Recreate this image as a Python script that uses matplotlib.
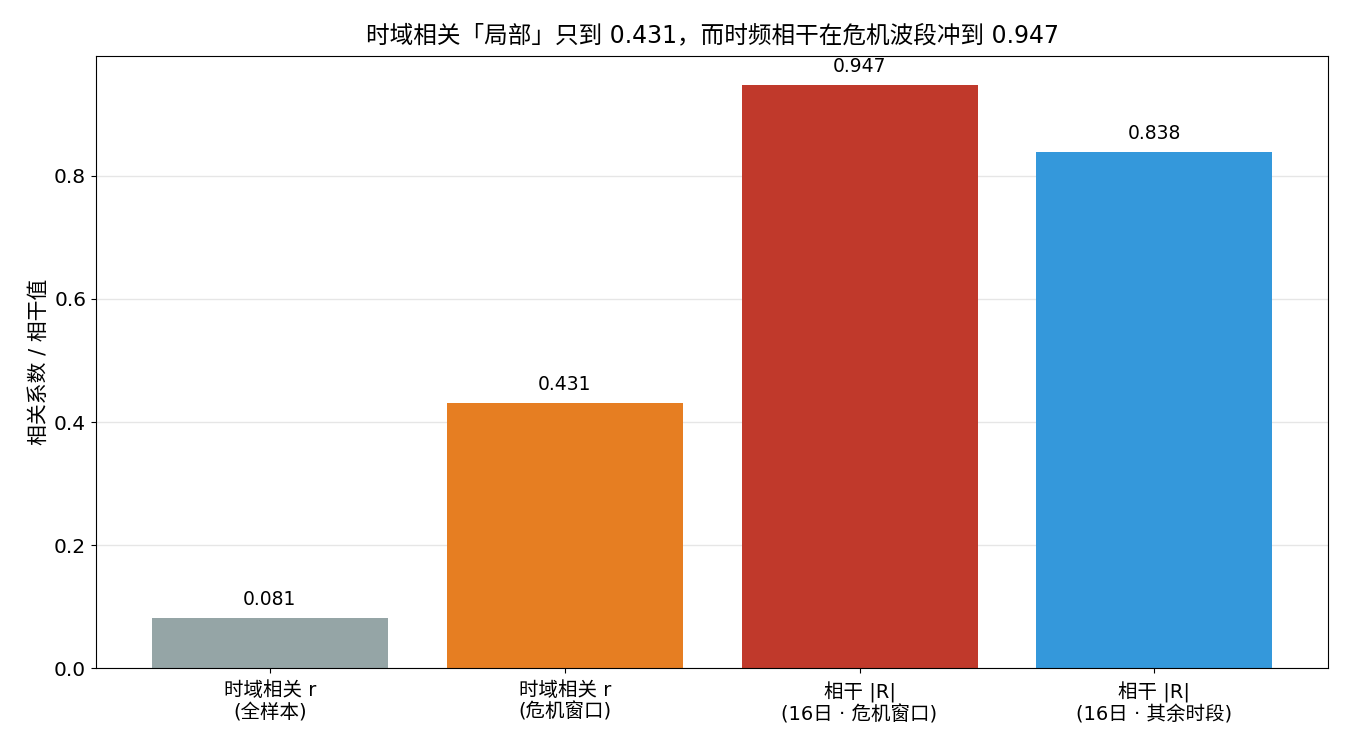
import matplotlib
matplotlib.use('Agg')
import matplotlib.pyplot as plt
import numpy as np

plt.rcParams['font.family'] = ['DejaVu Sans', 'Noto Sans CJK SC']
plt.rcParams['axes.unicode_minus'] = False

# data
labels = ['时域相关 r\n(全样本)', '时域相关 r\n(危机窗口)',
          '相干 |R|\n(16日 · 危机窗口)', '相干 |R|\n(16日 · 其余时段)']
values = [0.081, 0.431, 0.947, 0.838]
colors = ['#95a5a6', '#e67e22', '#c0392b', '#3498db']

fig, ax = plt.subplots(figsize=(13.5, 7.5), dpi=100)
x = np.arange(len(values))
bars = ax.bar(x, values, width=0.8, color=colors)

for xi, v in zip(x, values):
    ax.text(xi, v + 0.015, '%.3f' % v, ha='center', va='bottom', fontsize=13.5)

ax.set_xticks(x)
ax.set_xticklabels(labels, fontsize=14, linespacing=1.15)
ax.tick_params(axis='x', pad=6)
ax.tick_params(axis='y', labelsize=14.5)
ax.set_ylim(0, max(values) * 1.05)
ax.set_ylabel('相关系数 / 相干值', fontsize=15)
ax.set_title('时域相关「局部」只到 0.431，而时频相干在危机波段冲到 0.947', fontsize=17, pad=10)
ax.yaxis.grid(True, color='#e6e6e6', linewidth=1)
ax.set_axisbelow(True)

plt.subplots_adjust(left=0.071, right=0.984, top=0.925, bottom=0.109)
plt.savefig('out.png', dpi=100)
